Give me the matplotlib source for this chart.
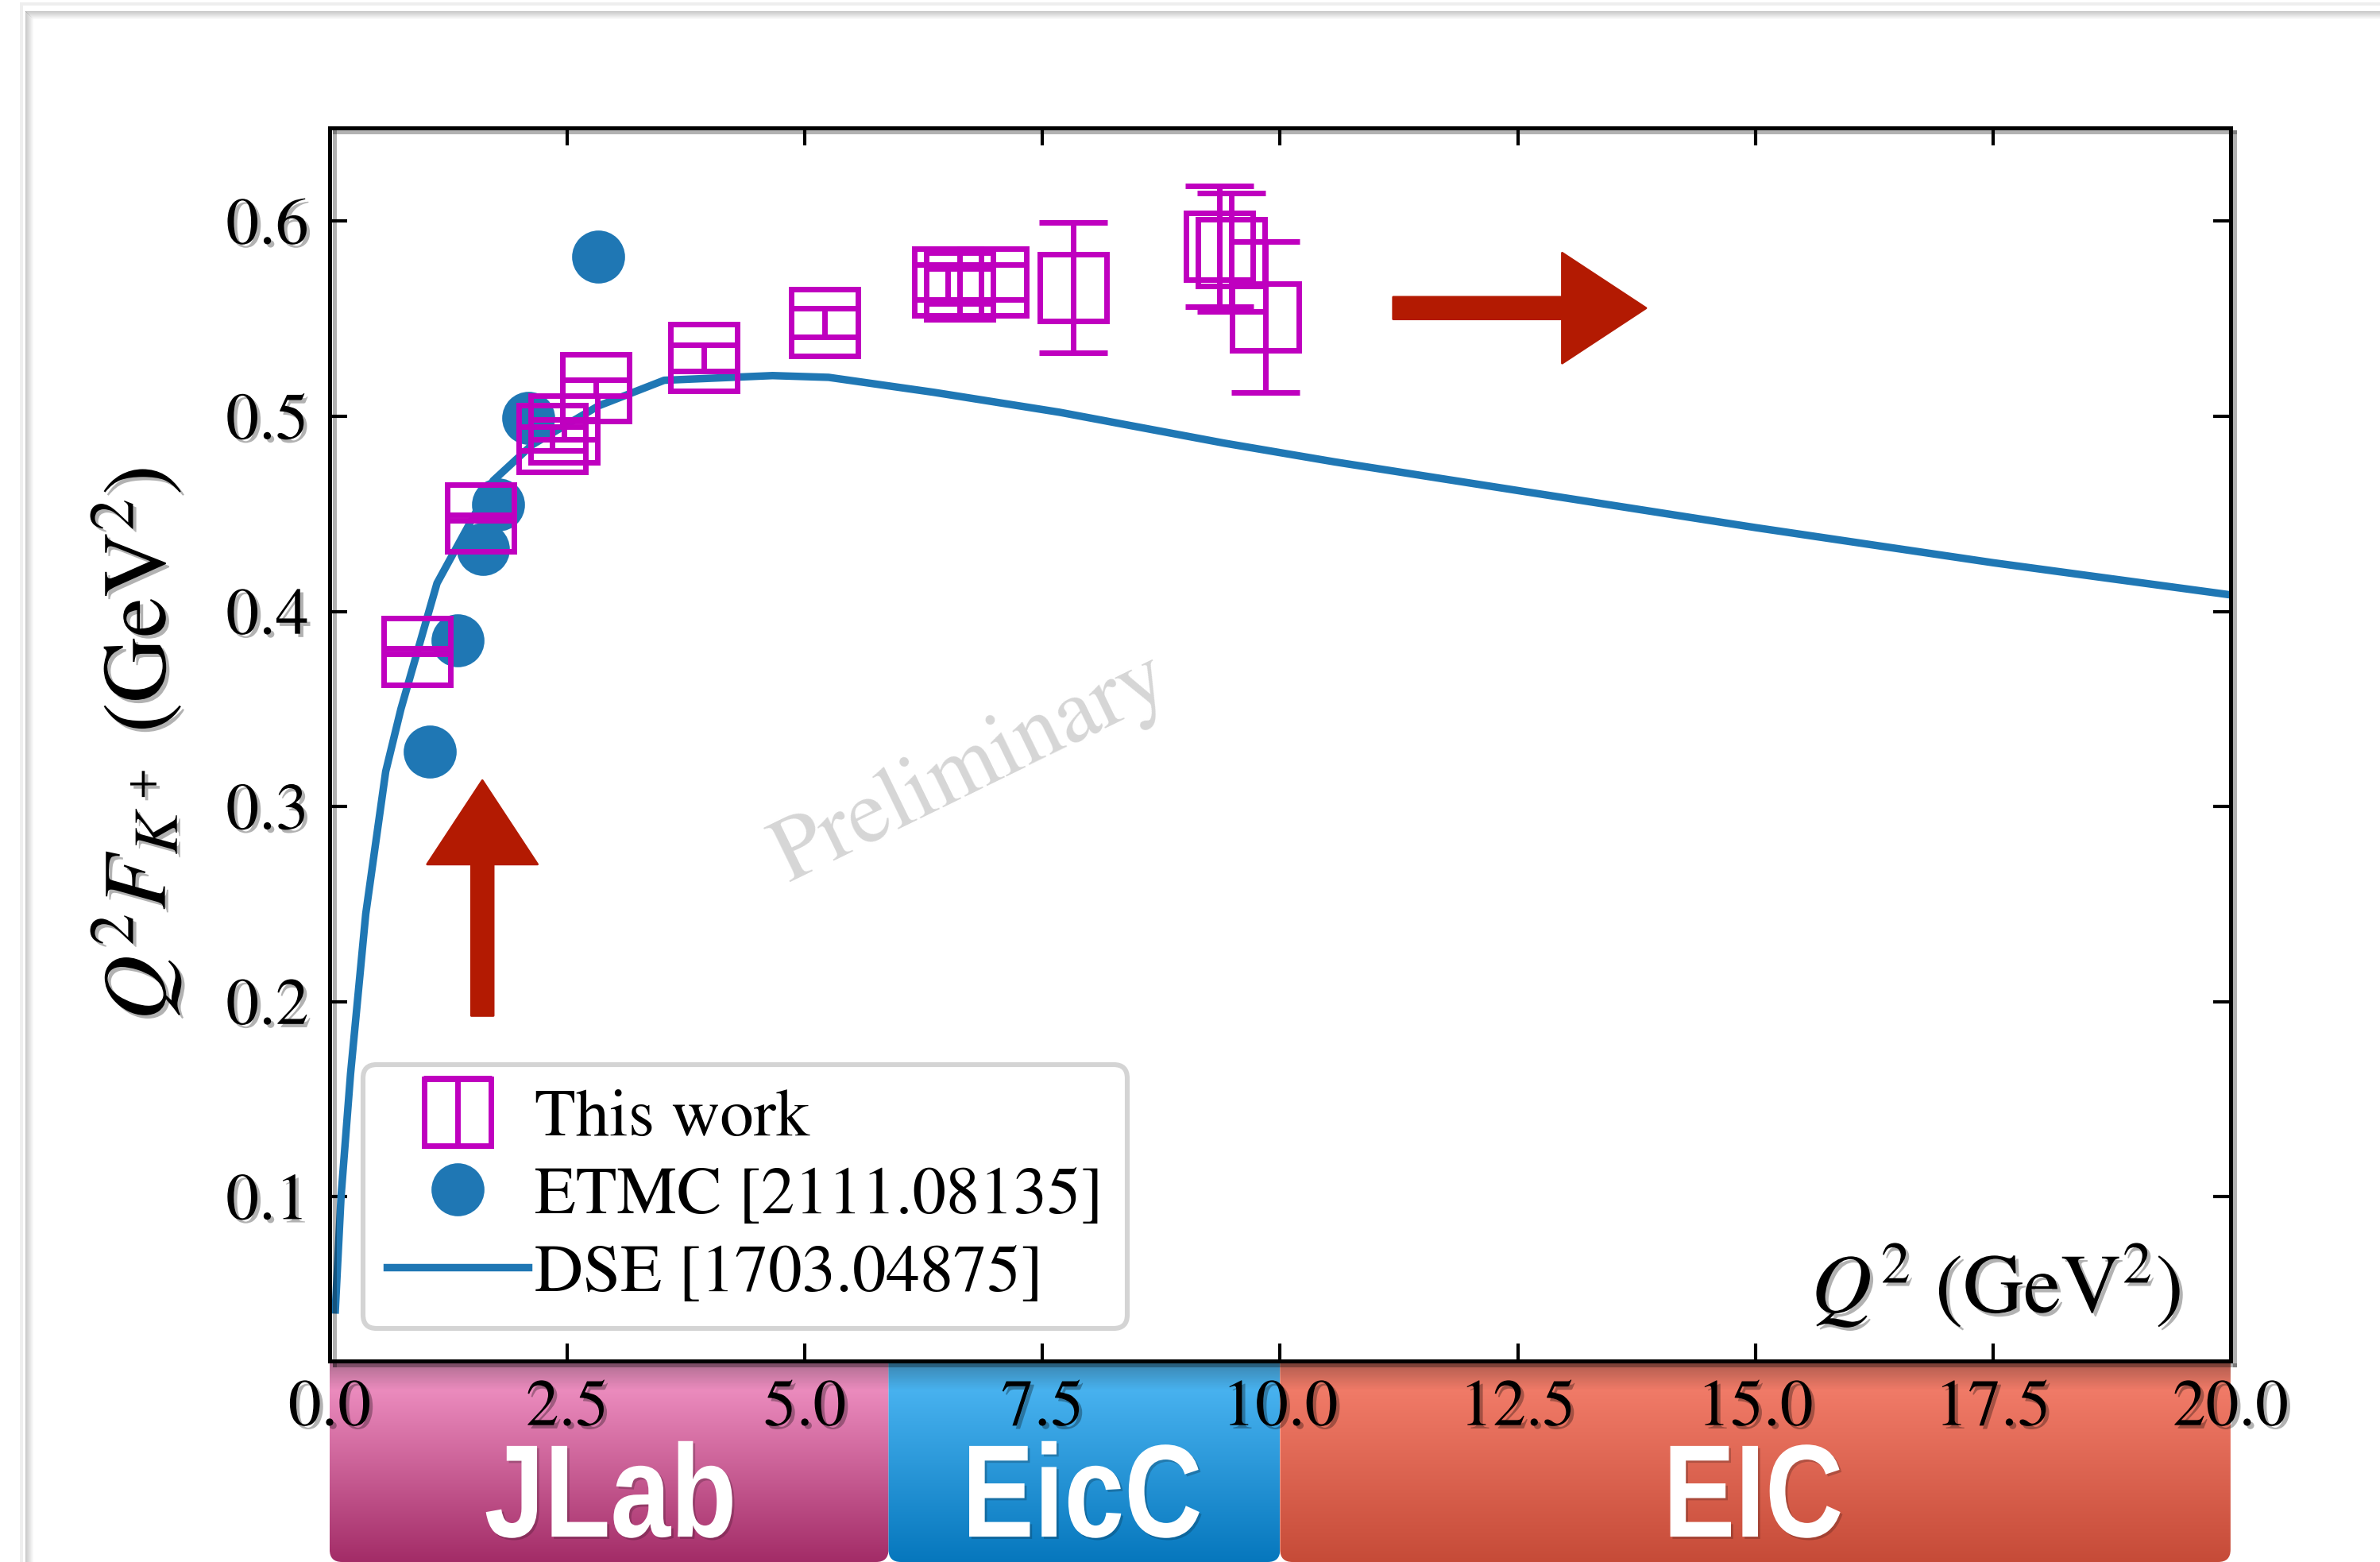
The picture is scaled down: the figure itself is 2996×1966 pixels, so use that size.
import matplotlib
matplotlib.use("Agg")
import matplotlib.pyplot as plt
import matplotlib.patheffects as pe
import matplotlib.transforms as mtransforms
from matplotlib.patches import FancyBboxPatch, Rectangle, PathPatch
from matplotlib.colors import LinearSegmentedColormap
from matplotlib.textpath import TextPath
from matplotlib.font_manager import FontProperties
import numpy as np

# "This work" lattice points
work_q2 = [0.92, 1.59, 2.34, 2.47, 2.80, 3.94, 5.21, 6.50, 6.63, 6.98, 7.82, 9.36, 9.49, 9.85]
work_f = [0.3796, 0.448, 0.4886, 0.4934, 0.5147, 0.530, 0.548, 0.5688, 0.5667, 0.5688,
          0.566, 0.5873, 0.5841, 0.5511]
work_err = [0.0015, 0.0015, 0.006, 0.005, 0.004, 0.0068, 0.0073, 0.009, 0.009, 0.009,
            0.0335, 0.031, 0.0304, 0.0387]

# ETMC points
etmc_q2 = [1.054, 1.345, 1.615, 1.775, 2.087, 2.822]
etmc_f = [0.328, 0.385, 0.432, 0.455, 0.4994, 0.582]

# DSE curve
dse_q2 = [0.06, 0.12, 0.22, 0.38, 0.59, 0.75, 1.13, 1.72, 2.13, 2.83, 3.52, 4.66, 5.25,
          6.36, 7.68, 9.41, 10.57, 12.5, 15.0, 17.5, 20.0]
dse_f = [0.042, 0.10, 0.163, 0.245, 0.318, 0.350, 0.4145, 0.467, 0.4854, 0.5054, 0.5185,
         0.5209, 0.520, 0.5123, 0.5021, 0.4863, 0.4767, 0.462, 0.443, 0.425, 0.4085]

# facility bands under the x axis
regions = ["JLab", "EicC", "EIC"]
region_edges = [0.0, 5.88, 10.0, 20.0]
region_top = ["#f69acb", "#52bbf7", "#f7826f"]
region_bottom = ["#a32c67", "#0677bd", "#c64b38"]

xticks = [0.0, 2.5, 5.0, 7.5, 10.0, 12.5, 15.0, 17.5, 20.0]
yticks = [0.1, 0.2, 0.3, 0.4, 0.5, 0.6]

plt.rcParams['font.family'] = 'STIXGeneral'
plt.rcParams['mathtext.fontset'] = 'stix'

W, H = 2996, 1966
shadow = [pe.withSimplePatchShadow(offset=(1.5, -1.5), shadow_rgbFace='k', alpha=0.3)]

fig = plt.figure(figsize=(W / 200, H / 200), dpi=200)


def px_rect(x, y, w, h, color, alpha=1.0):
    # rectangle given in pixels from the top-left corner
    fig.add_artist(Rectangle((x / W, 1 - (y + h) / H), w / W, h / H, transform=fig.transFigure,
                             color=color, alpha=alpha, lw=0))


# slide frame: faint outer edge and inner shadow
px_rect(25, 3, W, 4, '#eeeeee')
px_rect(25, 3, 4, H, '#eeeeee')
for i in range(10):
    a = 0.45 * (1 - i / 10)
    px_rect(32 + i, 14 + i, W, 1.2, '#888888', a)
    px_rect(32 + i, 14 + i, 1.2, H, '#888888', a)

ax = fig.add_axes([0.1385, 0.1289, 0.7987, 0.7894])
ax.set_zorder(2)

dse, = ax.plot(dse_q2, dse_f, color='#1f77b4', lw=3.4, zorder=2)
etmc, = ax.plot(etmc_q2, etmc_f, 'o', ms=23, color='#1f77b4', zorder=3)
work = ax.errorbar(work_q2, work_f, yerr=work_err, fmt='s', ms=30.5, mfc='none', mec='m',
                   mew=2.5, ecolor='m', elinewidth=2.5, capsize=15.5, capthick=2.5, zorder=4)

leg = ax.legend([work, etmc, dse], ["This work", "ETMC [2111.08135]", "DSE [1703.04875]"],
                loc='lower left', bbox_to_anchor=(0.0176, 0.026), borderaxespad=0,
                fontsize=30.5, fancybox=True, framealpha=1, edgecolor='#d4d4d4',
                handlelength=2.1, handletextpad=0.1, labelspacing=0.24, borderpad=0.35)
leg.get_frame().set_linewidth(2.2)

# arrows pointing to the facility ranges
arrow_kw = dict(arrowstyle='simple,head_length=3.8,head_width=5.0,tail_width=1.0',
                color='#b31a02', mutation_scale=10, shrinkA=0, shrinkB=0)
ax.annotate('', xy=(1.607, 0.3134), xytext=(1.607, 0.1928), arrowprops=arrow_kw)
ax.annotate('', xy=(13.85, 0.5555), xytext=(11.19, 0.5555), arrowprops=arrow_kw)

ax.text(6.75, 0.3190, 'Preliminary', rotation=26, color='#d6d6d6', fontsize=41,
        ha='center', va='center', rotation_mode='anchor', zorder=1)

ax.set_xlim(0, 20)
ax.set_ylim(0.016, 0.648)
ax.set_xticks(xticks)
ax.set_xticklabels([f'{t:.1f}' for t in xticks])
ax.set_yticks(yticks)
ax.set_yticklabels([f'{t:.1f}' for t in yticks])
ax.tick_params(direction='in', length=8, width=1.5, top=True, right=True, labelsize=30)
ax.tick_params(axis='x', pad=9)
ax.tick_params(axis='y', pad=9.5)
for lab in ax.get_xticklabels() + ax.get_yticklabels():
    lab.set_path_effects(shadow)

for sp in ax.spines.values():
    sp.set_linewidth(1.8)
    sp.set_path_effects([pe.SimpleLineShadow(offset=(2, -2), alpha=0.3), pe.Normal()])

ax.set_ylabel(r'$Q^2F_{K^+}$ (GeV$^2$)', fontsize=41, path_effects=shadow)
ax.yaxis.set_label_coords(-0.076, 0.5)
ax.set_xlabel(r'$Q^2$ (GeV$^2$)', fontsize=38, ha='right', va='baseline', path_effects=shadow)
ax.xaxis.set_label_coords(0.974, 0.039)

# facility bands
bax = fig.add_axes([0.1385, 0.0, 0.7987, 0.12767])
bax.set_zorder(1)
bax.set_xlim(0, 20)
bax.set_ylim(0, 1)
bax.axis('off')
grad = np.linspace(0, 1, 256).reshape(-1, 1)
band_font = FontProperties(family='Liberation Sans', weight='bold')
for name, x0, x1, ctop, cbot in zip(regions, region_edges[:-1], region_edges[1:], region_top, region_bottom):
    cmap = LinearSegmentedColormap.from_list(name, [cbot, ctop])
    im = bax.imshow(grad, extent=(x0, x1, 0, 1), origin='lower', cmap=cmap, aspect='auto')
    clip = FancyBboxPatch((x0, 0), x1 - x0, 1.5, boxstyle='round,pad=0,rounding_size=0.13',
                          mutation_aspect=0.477, transform=bax.transData, fc='none', ec='none')
    bax.add_patch(clip)
    im.set_clip_path(clip)
    # tall bold label, stretched vertically like the original
    tp = TextPath((0, 0), name, size=49, prop=band_font)
    tw = tp.get_extents().x0 + tp.get_extents().width / 2
    k = fig.dpi / 72
    trans = (mtransforms.Affine2D().translate(-tw, 0).scale(k, 1.22 * k)
             + mtransforms.ScaledTranslation((x0 + x1) / 2, 0.127, bax.transData))
    bax.add_patch(PathPatch(tp, transform=trans, fc='white', ec='none', clip_on=False,
                            path_effects=[pe.withSimplePatchShadow(offset=(1, -1), shadow_rgbFace='k', alpha=0.2)]))
top_shade = LinearSegmentedColormap.from_list('shade', [(0, 0, 0, 0), (0, 0, 0, 0.3)])
bax.imshow(grad, extent=(0, 20, 0.86, 1), origin='lower', cmap=top_shade, aspect='auto')
bax.set_xlim(0, 20)
bax.set_ylim(0, 1)

fig.savefig('out.png', dpi=200, facecolor='white')
